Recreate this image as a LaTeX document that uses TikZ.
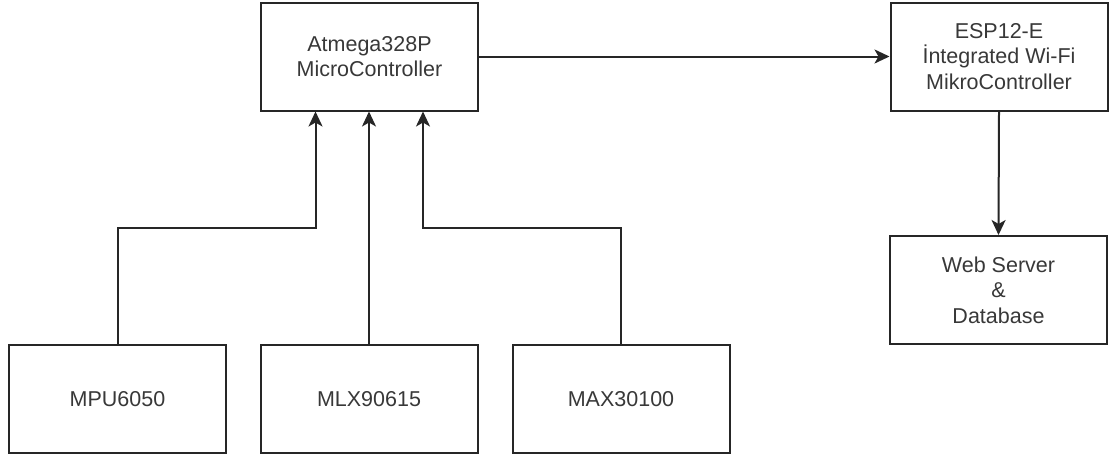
\documentclass[tikz,border=0pt]{standalone}
\usepackage{fontspec}
\setmainfont{Liberation Sans}
\usetikzlibrary{arrows.meta}
\begin{document}
\begin{tikzpicture}[x=1pt,y=-1pt,
  box/.style={draw=black!85, line width=2pt, rectangle, inner sep=0pt,
    minimum width=217pt, minimum height=108pt, align=center,
    font=\fontsize{21.5}{25.5}\selectfont, text=black!78},
  conn/.style={draw=black!85, line width=2pt, -{Stealth[length=15pt,width=14pt,inset=4pt]}}]
\useasboundingbox (0,0) rectangle (1110,459);
\node[box] (atm) at (369.5,56.5) {Atmega328P\\MicroController};
\node[box] (esp) at (999,56.5) {ESP12-E\\İntegrated Wi-Fi\\MikroController};
\node[box] (web) at (998.5,290) {Web Server\\\&\\Database};
\node[box] (mpu) at (117.5,399) {MPU6050};
\node[box] (mlx) at (369,399) {MLX90615};
\node[box] (max) at (621,399) {MAX30100};
\coordinate (mid) at (0,228);
\draw[conn] (mpu.north) -- (mpu.north |- mid) -| ([xshift=-54pt]atm.south);
\draw[conn] (mlx.north) -- (mlx.north |- atm.south);
\draw[conn] (max.north) -- (max.north |- mid) -| ([xshift=53.5pt]atm.south);
\draw[conn] (atm.east) -- (esp.west);
\draw[conn] (esp.south) -- (web.north);
\end{tikzpicture}
\end{document}
